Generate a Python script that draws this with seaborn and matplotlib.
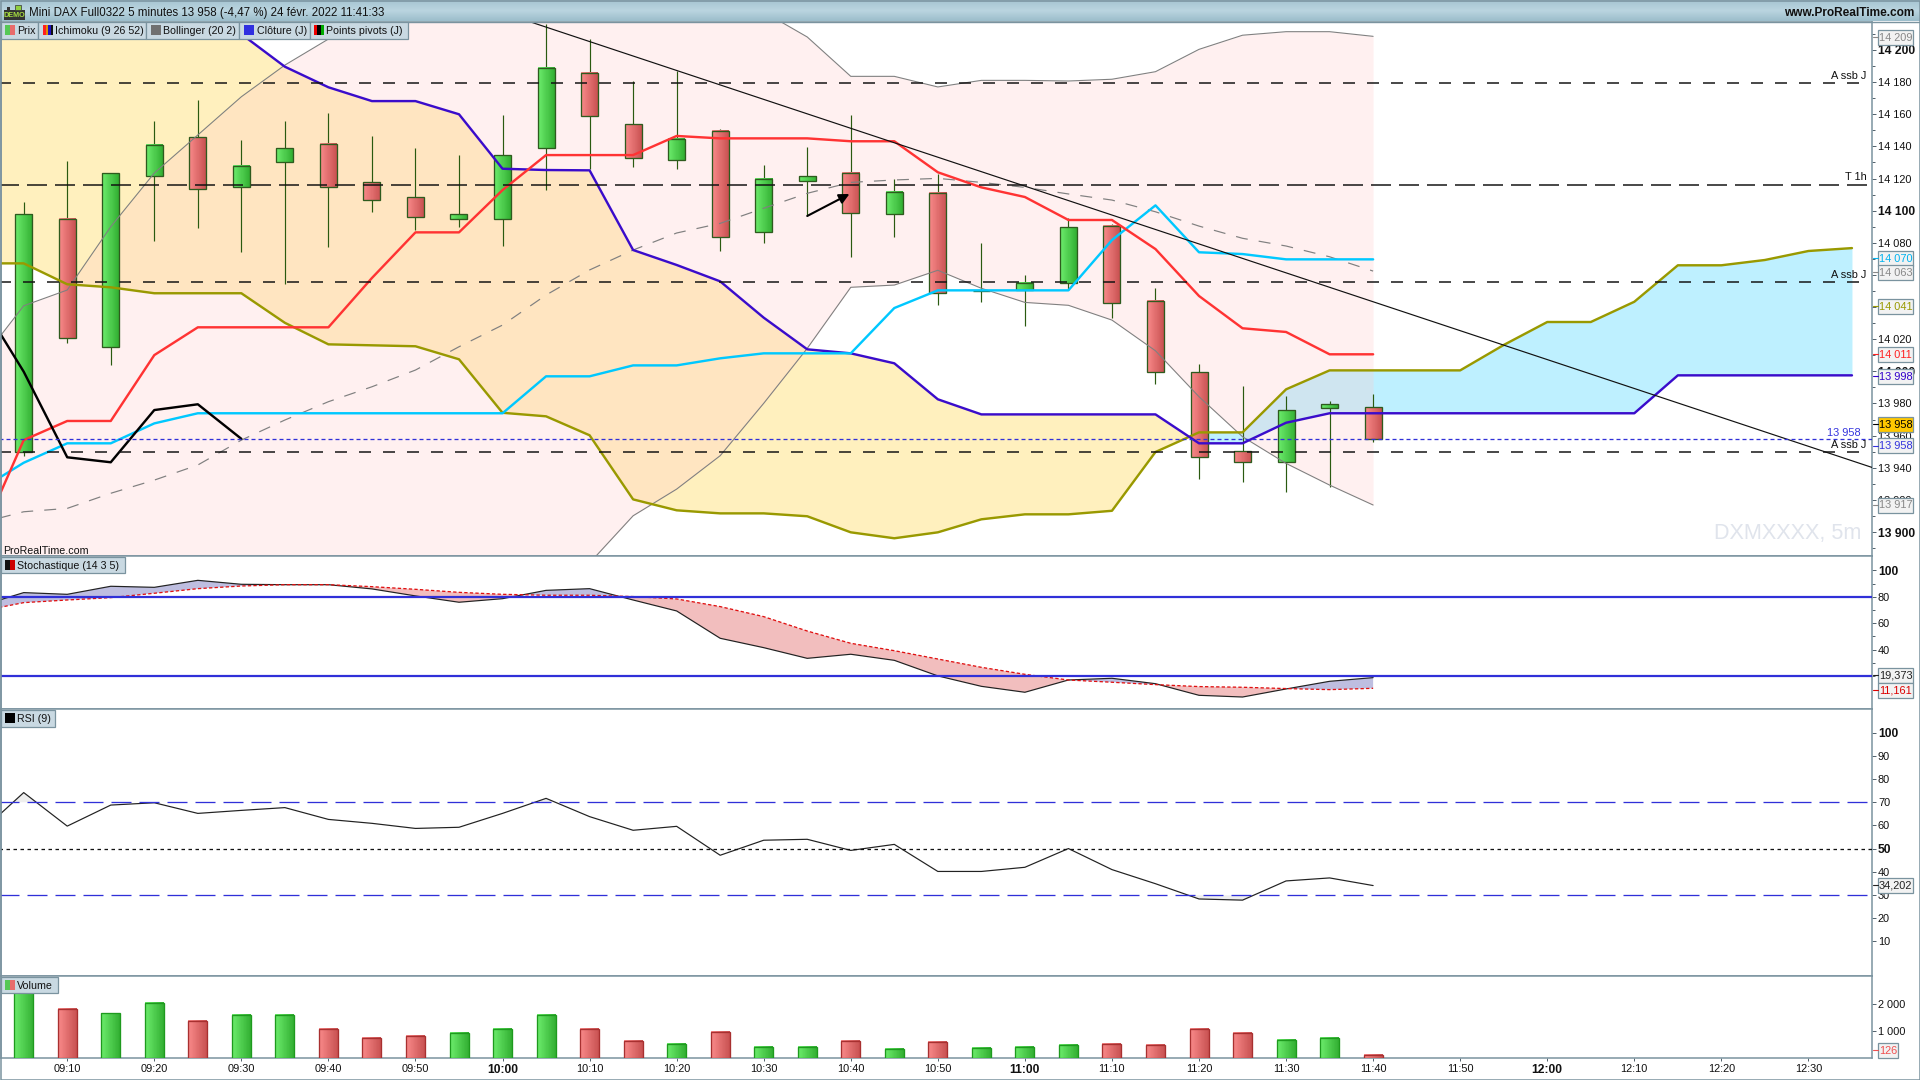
import numpy as np
import matplotlib
matplotlib.use('Agg')
import matplotlib.pyplot as plt
import seaborn as sns
from matplotlib.colors import LinearSegmentedColormap
from matplotlib.patches import Rectangle
from matplotlib.ticker import FixedLocator, FixedFormatter

# bars, 09:05 = 0, one step = 5 minutes
opens = [13950, 14094.6, 14015.3, 14121.4, 14145.6, 14114.5, 14130.5, 14141.3, 14117.6, 14108.3, 14095, 14095,
         14138.8, 14185.5, 14153.7, 14131.3, 14149.4, 14086.5, 14118.3, 14123.2, 14097.7, 14110.8, 14049.7, 14050.6,
         14054.8, 14090.3, 14043.6, 13999.4, 13950.2, 13943.4, 13977.3, 13977.6]
highs = [14105.4, 14130.9, 14123.2, 14155.8, 14168.9, 14144, 14155.8, 14160.8, 14146.5, 14138.8, 14134.6, 14159.3,
         14215.9, 14206.6, 14180.5, 14187.1, 14150.8, 14128.4, 14139.6, 14159.5, 14119.5, 14122.8, 14079.7, 14059.9,
         14095.2, 14091.7, 14051.7, 14004.5, 13990.9, 13984.6, 13981.5, 13985.7]
lows = [13947.5, 14017.4, 14004.1, 14081.3, 14089.4, 14074.4, 14054.5, 14077.6, 14099.3, 14087.9, 14089.8, 14078.2,
        14113, 14125.7, 14127.3, 14126.1, 14075.1, 14080, 14096.7, 14071.3, 14083.4, 14041.5, 14043.3, 14028.4,
        14050.6, 14033.2, 13992.3, 13933.2, 13931.3, 13925.1, 13928.2, 13956.2]
closes = [14097.7, 14020.5, 14123.2, 14140.7, 14113.3, 14127.6, 14138.8, 14114.5, 14106.4, 14096.2, 14097.7, 14134.4,
          14188.6, 14158.7, 14132.6, 14144.4, 14083.4, 14119.5, 14121.4, 14098.3, 14111.4, 14048.5, 14050.3, 14055.1,
          14089.6, 14042.3, 13999.4, 13946.5, 13943.4, 13975.7, 13979.5, 13958]
volumes = [2900, 1815, 1643, 2038, 1371, 1593, 1593, 1074, 741, 815, 926, 1074, 1593, 1074, 630, 519, 963, 408,
           408, 630, 333, 593, 370, 408, 482, 519, 482, 1074, 926, 667, 741, 126]

# ichimoku, first value sits one bar before 09:05
cloud_top = [14240] * 6 + [14209.9, 14189.6, 14176.8, 14168.2, 14168.2, 14160, 14126.1, 14125.3, 14125.1, 14075.5,
             14066.2, 14056, 14033.4, 14013.7, 14011.2, 14005, 13982.6] + [13973.2] * 5 + [13955.2, 13955.2, 13968] \
            + [13973.9] * 8 + [13997.5] * 5
cloud_other = [14067.2, 14067.2, 14054.2, 14052.3, 14048.6, 14048.6, 14048.6, 14030.2, 14016.8, 14016.2, 14015.6,
               14007.5, 13974.2, 13972, 13960.2, 13920.3, 13913.5, 13911.6, 13911.6, 13909.8, 13899.8, 13896.1,
               13899.8, 13907.9, 13911, 13911, 13913.2, 13949.8, 13962, 13962, 13988.8, 14000.6, 14000.6, 14000.6,
               14000.6, 14016.4, 14030.7, 14030.7, 14043.3, 14066, 14066, 14069.3, 14074.9, 14076.7]
kijun = [13926.4, 13943.1, 13955.2, 13955.2, 13967.6] + [13973.9] * 8 + [13996.9, 13996.9, 14003.7, 14003.7, 14008.1,
         14011.2, 14011.2, 14011.2, 14039.4, 14050.4, 14050.4, 14050.4, 14050.4, 14081.7, 14103.3, 14074.1, 14073,
         14069.7, 14069.7, 14069.7]
tenkan = [13895.6, 13957.2, 13969.1, 13969.1, 14010.1, 14027.4, 14027.4, 14027.4, 14027.4, 14058.1, 14086.5, 14086.5,
          14112.8, 14134.6, 14134.6, 14134.6, 14146.5, 14145, 14145, 14145, 14143.2, 14143.2, 14123.9, 14114.5,
          14108.5, 14094.2, 14094.2, 14076.1, 14046.9, 14026.8, 14024.5, 14010.6, 14010.6]
chikou = [14043.8, 13999.8, 13946.5, 13943.4, 13975.9, 13979.5, 13958]

# bollinger, same start
boll_up = [14005.8, 14040.8, 14050.6, 14090, 14123.4, 14147.1, 14170.9, 14190.6, 14206.8, 14223] + [14240] * 8 \
          + [14223.7, 14208.1, 14183.6, 14183.6, 14177, 14181.1, 14181.1, 14180.7, 14181.8, 14186.5, 14200.4, 14209.2,
             14211.4, 14211.4, 14208.5]
boll_mid = [13905.6, 13912.6, 13914.7, 13924.1, 13932.3, 13941.7, 13957.2, 13969.7, 13981.1, 13990.4, 14000.8, 14015.3,
            14028.8, 14047.5, 14063.1, 14075.5, 14086.1, 14092.1, 14101.5, 14110.8, 14117.6, 14119.1, 14120.1, 14117.6,
            14114.5, 14110.4, 14106.6, 14099.3, 14090.4, 14082.8, 14078, 14071.3, 14062.4]
boll_low = [13840] * 13 + [13851.4, 13880.7, 13910.1, 13926.7, 13947.5, 13980.1, 14014.3, 14052.3, 14053.7, 14062.9,
            14051.7, 14042.9, 14041.1, 14031.9, 14012.8, 13984.2, 13959.3, 13942.7, 13929.2, 13916.8]

stoch_k = [73, 83.1, 81.8, 87.9, 87.1, 92.4, 89.4, 89.1, 89.1, 85.9, 80.6, 75.8, 78.5, 84.8, 86.1, 77.5, 69.2, 48.5,
           41.4, 33.3, 36.4, 31.8, 20, 12.1, 7.6, 16.9, 18.2, 14.1, 5.3, 4, 10.1, 15.9, 18.7]
stoch_d = [69, 75.5, 77.5, 79.3, 82.6, 86.1, 88.1, 89.1, 89.1, 87.6, 85.6, 83.3, 81.8, 81.1, 81.1, 80.1, 78.3, 72.5,
           64.9, 54, 44.7, 39.1, 32.8, 26.5, 21.2, 16.9, 15.2, 13.4, 11.9, 11.4, 10.4, 9.6, 10.6]
rsi = [57, 74.2, 59.7, 68.8, 69.8, 65.2, 66.5, 67.7, 62.6, 60.9, 58.7, 59.2, 65.2, 71.7, 63.8, 57.9, 59.6, 47.1, 53.6,
       54, 49.2, 51.8, 40.1, 40.1, 41.9, 50, 40.9, 34.8, 28.2, 27.7, 36, 37.3, 34]

# horizontal levels and the drawn trend line
ssb_levels = [14179.3, 14055.6, 13949.6]
t1h_level = 14116
close_level = 13957.7
trend_x = [11.65, 42.46]
trend_y = [14217.4, 13940.2]
arrow_from = (18, 14096.7)
arrow_to = (18.97, 14110.4)

price_ticks = [13900, 13920, 13940, 13960, 13980, 14000, 14020, 14040, 14060, 14080, 14100, 14120, 14140, 14160,
               14180, 14200]
price_minor = [13890, 13910, 13930, 13950, 13970, 13990, 14010, 14030, 14050, 14070, 14090, 14110, 14130, 14150,
               14170, 14190, 14210]
stoch_ticks = [40, 60, 80, 100]
stoch_minor = [20, 30, 50, 70, 90]
rsi_ticks = [10, 20, 30, 40, 50, 60, 70, 80, 90, 100]
vol_ticks = [1000, 2000]
time_idx = list(range(1, 42, 2))
time_labels = ['09:10', '09:20', '09:30', '09:40', '09:50', '10:00', '10:10', '10:20', '10:30', '10:40', '10:50',
               '11:00', '11:10', '11:20', '11:30', '11:40', '11:50', '12:00', '12:10', '12:20', '12:30']

# value boxes on the right scale
box_texts = ['14 209', '14 070', '14 063', '14 041', '14 011', '13 998', '13 958', '13 958', '13 917',
             '19,373', '11,161', '34,202', '126']
box_colors = ['#888888', '#00B4F0', '#888888', '#999900', '#FF2020', '#3300CC', '#000000', '#3333DD', '#888888',
              '#222222', '#DD0000', '#222222', '#F05050']
box_y = [37.3, 258.3, 272.3, 306, 354, 376, 424, 445.7, 505, 675, 690, 885, 1050.3]

WIDTH, HEIGHT = 1920, 1080
SLATE = '#7A939F'
STEP = 43.53
FIRST = 23.7

sns.set_theme(style='white')
plt.rcParams['font.family'] = ['Liberation Sans', 'DejaVu Sans']
plt.rcParams['lines.scale_dashes'] = False
plt.rcParams['axes.edgecolor'] = SLATE
plt.rcParams['axes.linewidth'] = 1.1
NORMAL = 7.9
BOLD = 8.7


def px_axes(fig, top, bottom):
    return fig.add_axes([1 / WIDTH, 1 - bottom / HEIGHT, 1871 / WIDTH, (bottom - top) / HEIGHT])


def draw_line(ax, xs, ys, color, lw, z=5, **kws):
    sns.lineplot(x=list(xs), y=list(ys), color=color, linewidth=lw * 0.72, estimator=None, sort=False,
                 legend=False, ax=ax, zorder=z, **kws)


def level(ax, y, color, lw, dash, end=42.46, z=6):
    ax.plot([-1, end], [y, y], color=color, lw=lw * 0.72, linestyle=(0, (dash[0] * 0.72, dash[1] * 0.72)),
            zorder=z)


def gradients(ax, patches, light, dark, z):
    cmap = LinearSegmentedColormap.from_list('body', [light, dark])
    for patch in patches:
        box = patch.get_bbox()
        ax.imshow(np.linspace(0, 1, 32).reshape(1, -1), extent=(box.x0, box.x1, box.y0, box.y1), aspect='auto',
                  cmap=cmap, zorder=z, interpolation='nearest')


def right_scale(ax, ticks, labels, bold, minor=None):
    ax.yaxis.tick_right()
    ax.yaxis.set_major_locator(FixedLocator(ticks))
    ax.yaxis.set_major_formatter(FixedFormatter(labels))
    if minor:
        ax.yaxis.set_minor_locator(FixedLocator(minor))
    ax.tick_params(axis='y', which='major', right=True, left=False, length=3.1, width=0.7, color='#50606A',
                   pad=1.2, labelsize=NORMAL, labelcolor='#111111')
    ax.tick_params(axis='y', which='minor', right=True, left=False, length=2.0, width=0.7, color='#50606A')
    for tick, text in zip(ticks, ax.get_yticklabels()):
        if tick in bold:
            text.set_fontweight('bold')
            text.set_fontsize(BOLD)


x_limits = ((1 - FIRST) / STEP, (1872 - FIRST) / STEP)
up = [c >= o for o, c in zip(opens, closes)]
n_bars = len(opens)
bars = np.arange(n_bars)

fig = plt.figure(figsize=(WIDTH / 100, HEIGHT / 100), dpi=100, facecolor='white')
ax_price = px_axes(fig, 22, 556)
ax_stoch = px_axes(fig, 556.4, 709)
ax_rsi = px_axes(fig, 709, 976.3)
ax_vol = px_axes(fig, 976.3, 1058.3)

# --- price panel ---
cloud_x = np.arange(-1, len(cloud_top) - 1)
top_arr = np.array(cloud_top)
other_arr = np.array(cloud_other)
ax_price.fill_between(cloud_x, top_arr, other_arr, where=top_arr >= other_arr, interpolate=True, color='#FFF0BE',
                      linewidth=0, zorder=1)
ax_price.fill_between(cloud_x, top_arr, other_arr, where=top_arr <= other_arr, interpolate=True, color='#BEF0FF',
                      linewidth=0, zorder=1)
band_x = np.arange(-1, len(boll_up) - 1)
ax_price.fill_between(band_x, boll_low, boll_up, color=(1, 0.796, 0.796), alpha=0.27, linewidth=0, zorder=2)

body_w = 17 / STEP
ax_price.vlines(bars, lows, highs, color='#2A5A10', lw=0.85, zorder=3)
for mask, light, dark in [(True, '#6CEC6C', '#33B033'), (False, '#F98A8A', '#C95252')]:
    sel = [i for i in bars if up[i] == mask]
    rects = ax_price.bar(sel, [abs(closes[i] - opens[i]) for i in sel], bottom=[min(opens[i], closes[i]) for i in sel],
                         width=body_w, facecolor='none', edgecolor='#2E5B1E', linewidth=0.95, zorder=3.5)
    gradients(ax_price, rects.patches, light, dark, 3.2)

draw_line(ax_price, band_x, boll_up, '#808080', 1.1)
draw_line(ax_price, band_x, boll_low, '#808080', 1.1)
draw_line(ax_price, band_x, boll_mid, '#808080', 1.2, linestyle=(0, (8.6, 8)))
draw_line(ax_price, cloud_x, cloud_other, '#999900', 2.4)
draw_line(ax_price, cloud_x, cloud_top, '#3A0CCB', 2.4)
draw_line(ax_price, np.arange(-1, len(kijun) - 1), kijun, '#00C8FF', 2.4)
draw_line(ax_price, np.arange(-1, len(tenkan) - 1), tenkan, '#FF3333', 2.4)
draw_line(ax_price, np.arange(-1, len(chikou) - 1), chikou, '#000000', 2.4)
ax_price.plot(trend_x, trend_y, color='#111111', lw=0.85, zorder=6)
ax_price.annotate('', xy=arrow_to, xytext=arrow_from, zorder=7,
                  arrowprops=dict(arrowstyle='-|>', color='black', lw=1.5, mutation_scale=15, shrinkA=0, shrinkB=0))

ssb_ends = [42.2, 42.2, 42.2]
for y, end in zip(ssb_levels, ssb_ends):
    level(ax_price, y, '#111111', 1.5, (12, 12), end)
level(ax_price, t1h_level, '#111111', 1.5, (20, 8), 42.4)
level(ax_price, close_level, '#3030D8', 1.3, (4, 3))

ax_price.set_xlim(x_limits)
ax_price.set_ylim(14231.12 - 0.6224 * 556, 14231.12 - 0.6224 * 22)
right_scale(ax_price, price_ticks, [f'{p:,}'.replace(',', ' ') for p in price_ticks], [13900, 14000, 14100, 14200],
            price_minor)

# --- stochastic ---
k_arr = np.array(stoch_k)
d_arr = np.array(stoch_d)
osc_x = np.arange(-1, len(stoch_k) - 1)
ax_stoch.fill_between(osc_x, k_arr, d_arr, where=k_arr >= d_arr, interpolate=True, color='#BEBEE0', linewidth=0)
ax_stoch.fill_between(osc_x, k_arr, d_arr, where=k_arr <= d_arr, interpolate=True, color='#F2BEBE', linewidth=0)
draw_line(ax_stoch, osc_x, stoch_k, '#222222', 1.2)
draw_line(ax_stoch, osc_x, stoch_d, '#E01010', 1.3, linestyle=(0, (2.4, 1.6)))
for y in (80, 20):
    ax_stoch.axhline(y, color='#3030D8', lw=1.6, zorder=6)
ax_stoch.set_xlim(x_limits)
ax_stoch.set_ylim(100 - (709 - 570.3) / 1.32, 100 + (570.3 - 556.4) / 1.32)
right_scale(ax_stoch, stoch_ticks, [str(t) for t in stoch_ticks], [100], stoch_minor)

# --- rsi ---
rsi_arr = np.array(rsi)
ax_rsi.fill_between(osc_x, rsi_arr, 70, where=rsi_arr >= 70, interpolate=True, color='#EEEEEE', linewidth=0)
ax_rsi.fill_between(osc_x, rsi_arr, 30, where=rsi_arr <= 30, interpolate=True, color='#EEEEEE', linewidth=0)
draw_line(ax_rsi, osc_x, rsi, '#222222', 1.2)
level(ax_rsi, 70, '#3030D8', 1.3, (20, 8))
level(ax_rsi, 30, '#3030D8', 1.3, (20, 8))
level(ax_rsi, 50, '#111111', 1.3, (3.5, 3.5))
ax_rsi.set_xlim(x_limits)
ax_rsi.set_ylim(100 - (976.3 - 732.9) / 2.313, 100 + (732.9 - 709) / 2.313)
right_scale(ax_rsi, rsi_ticks, [str(t) for t in rsi_ticks], [50, 100])

# --- volume ---
direction = ['up' if u else 'down' for u in up]
sns.barplot(x=bars, y=volumes, hue=direction, palette={'up': '#55D855', 'down': '#E86C6C'}, native_scale=True,
            width=19 / STEP, dodge=False, legend=False, errorbar=None, saturation=1, ax=ax_vol, zorder=3)
for patch in list(ax_vol.patches):
    box = patch.get_bbox()
    rising = up[int(round((box.x0 + box.x1) / 2))]
    colors = ('#6CEC6C', '#33B033') if rising else ('#F98A8A', '#C95252')
    gradients(ax_vol, [patch], colors[0], colors[1], 3.2)
    patch.set_facecolor('none')
    patch.set_edgecolor('#1E9A1E' if rising else '#A83030')
    patch.set_linewidth(0.95)
    patch.set_zorder(3.5)
ax_vol.set_xlim(x_limits)
ax_vol.set_ylim(0, 3004)
right_scale(ax_vol, vol_ticks, [f'{v:,}'.replace(',', ' ') for v in vol_ticks], [])
ax_vol.set_xlabel('')
ax_vol.set_ylabel('')
ax_vol.xaxis.set_major_locator(FixedLocator(time_idx))
ax_vol.xaxis.set_major_formatter(FixedFormatter(time_labels))
ax_vol.tick_params(axis='x', bottom=True, length=2.2, width=0.7, color='#50606A', pad=2.0, labelsize=NORMAL,
                   labelcolor='#111111')
for label, text in zip(time_labels, ax_vol.get_xticklabels()):
    if label.endswith(':00'):
        text.set_fontweight('bold')
        text.set_fontsize(BOLD)

for ax in (ax_price, ax_stoch, ax_rsi):
    ax.xaxis.set_visible(False)
    ax.set_xlabel('')
    ax.set_ylabel('')

# --- window furniture drawn in pixel coordinates ---
ov = fig.add_axes([0, 0, 1, 1], zorder=20)
ov.patch.set_alpha(0)
header_cmap = LinearSegmentedColormap.from_list('head', ['#A7C5D2', '#BAD5E0', '#9DBECC'])
ov.imshow(np.linspace(0, 1, 21).reshape(-1, 1), extent=(0, WIDTH, 21, 0), aspect='auto', cmap=header_cmap, zorder=1)
ov.plot([0, WIDTH], [21.5, 21.5], color=SLATE, lw=1.0, zorder=2)
ov.add_patch(Rectangle((0.5, 0.5), WIDTH - 1, HEIGHT - 1, fill=False, edgecolor=SLATE, lw=1.1, zorder=2))

ov.add_patch(Rectangle((3.5, 10), 21, 10, facecolor='#333333', edgecolor='none', zorder=3))
ov.add_patch(Rectangle((15, 5), 6, 5, facecolor='#90D040', edgecolor='#333333', lw=0.5, zorder=3))
ov.add_patch(Rectangle((7, 7), 3, 3, facecolor='#333333', edgecolor='none', zorder=3))
ov.text(14, 15.3, 'DEMO', color='#A8E040', fontsize=5.2, ha='center', va='center', fontweight='bold', zorder=4)
ov.text(29, 13, 'Mini DAX Full0322 5 minutes 13 958 (-4,47 %) 24 févr. 2022 11:41:33', fontsize=8.3,
        color='#111111', va='center', ha='left', zorder=4)
ov.text(1914.5, 13, 'www.ProRealTime.com', fontsize=8.6, fontweight='bold', color='#111111', va='center', ha='right',
        zorder=4)


def chip(x0, x1, y0, y1, label, text_x, icon_x, icon_colors):
    ov.add_patch(Rectangle((x0, y0), x1 - x0, y1 - y0, facecolor='#C9D9E2', edgecolor=SLATE, lw=0.9, zorder=5))
    width = 10 / len(icon_colors)
    for k, c in enumerate(icon_colors):
        ov.add_patch(Rectangle((icon_x + k * width, y0 + 3), width, 10, facecolor=c, edgecolor='none', zorder=6))
    ov.text(text_x, (y0 + y1) / 2 + 1, label, fontsize=7.7, color='#111111', va='center', ha='left', zorder=6)


chip(1, 38.4, 22, 38.7, 'Prix', 17, 5, ['#55C855', '#E86C6C'])
chip(38.4, 146.4, 22, 38.7, 'Ichimoku (9 26 52)', 55.4, 43, ['#FF2020', '#E09000', '#2010C0', '#101010'])
chip(146.4, 239.3, 22, 38.7, 'Bollinger (20 2)', 163.4, 151, ['#707070'])
chip(239.3, 309.8, 22, 38.7, 'Clôture (J)', 256.7, 244, ['#3030E0'])
chip(309.8, 407.6, 22, 38.7, 'Points pivots (J)', 326, 314, ['#EE0000', '#000000', '#00AA00'])
chip(1, 125.4, 557, 573.3, 'Stochastique (14 3 5)', 17.4, 5, ['#111111', '#CC0000'])
chip(1, 54.5, 710, 726.7, 'RSI (9)', 17.4, 5, ['#000000'])
chip(1, 57.7, 976.7, 993.3, 'Volume', 17.3, 5, ['#55C855', '#E86C6C'])

ov.text(2.7, 550.5, 'ProRealTime.com', fontsize=7.7, color='#111111', va='center', ha='left', zorder=6)
ov.text(1861.7, 533, 'DXMXXXX, 5m', fontsize=15.6, color='#E0E4EC', va='center', ha='right', zorder=3)
ov.text(1861, 432.5, '13 958', fontsize=NORMAL, color='#3333DD', va='center', ha='right', zorder=6)

label_rows = [(83.3, 'A ssb J'), (185, 'T 1h'), (282, 'A ssb J'), (452.3, 'A ssb J')]
for y, label in label_rows:
    ov.text(1866.7, y - 7.5, label, fontsize=NORMAL, color='#111111', va='center', ha='right', zorder=6)

for text, color, y in zip(box_texts, box_colors, box_y):
    x1 = 1898 if text == '126' else 1913.3
    face = '#FFC800' if (y == 424) else '#F2F2F2'
    ov.add_patch(Rectangle((1877.7, y - 7.5), x1 - 1877.7, 15, facecolor=face, edgecolor=SLATE, lw=0.9, zorder=7))
    ov.plot([1872.5, 1877.5], [y, y], color=color, lw=0.8, zorder=7)
    ov.text(1879, y + 0.5, text, fontsize=NORMAL, color=color, va='center', ha='left', zorder=8)

ov.set_xlim(0, WIDTH)
ov.set_ylim(HEIGHT, 0)
ov.axis('off')

fig.savefig('out.png', dpi=100)
